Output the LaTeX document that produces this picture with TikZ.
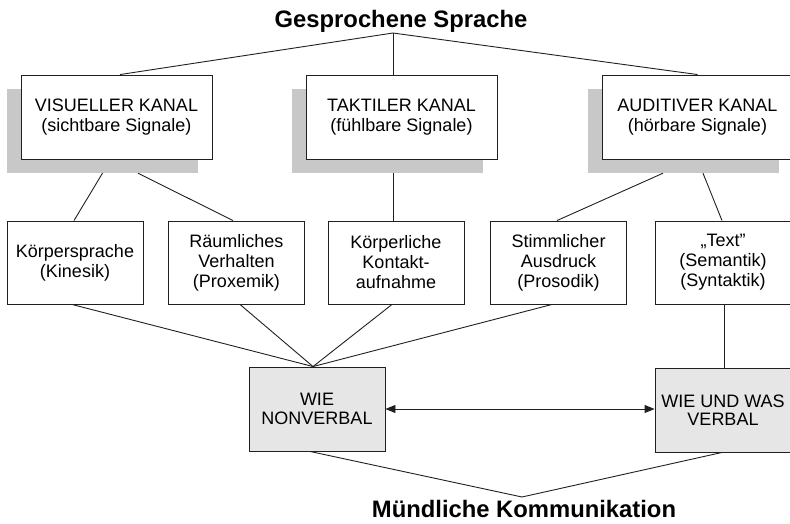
\documentclass[tikz,border=0pt]{standalone}
\usepackage{fontspec}
\setmainfont{Liberation Sans}
\usetikzlibrary{arrows.meta}
\definecolor{linec}{HTML}{231F20}
\definecolor{shadowc}{HTML}{C8C8C8}
\definecolor{boxgray}{HTML}{E6E6E6}
\tikzset{
  box/.style={draw=linec, line width=0.9pt, fill=white, minimum width=136pt, minimum height=83pt,
    inner sep=0pt, align=center, font=\fontsize{18}{20}\selectfont},
  kbox/.style={box, minimum width=191pt, minimum height=84pt},
  shadowbox/.style={fill=shadowc, minimum width=191pt, minimum height=84pt, inner sep=0pt},
  gbox/.style={box, fill=boxgray, minimum height=84pt, font=\fontsize{18}{18.5}\selectfont},
  titletext/.style={font=\fontsize{23.8}{26}\selectfont\bfseries, inner sep=0pt, anchor=base},
  conn/.style={draw=linec, line width=0.9pt}
}
\begin{document}
\begin{tikzpicture}[x=1pt,y=-1pt]
\useasboundingbox (0,0) rectangle (790,523);
% titles
\node[titletext] (gs) at (401,27) {Gesprochene Sprache};
\node[titletext] (mk) at (524,517) {Mündliche Kommunikation};
\coordinate (topc) at (393,33);
\coordinate (botc) at (522,497);
% shadows
\node[shadowbox] (visS) at (102.5,131) {};
\node[shadowbox] (takS) at (387.5,131) {};
\node[shadowbox] (audS) at (683.5,131) {};
% channel boxes
\node[kbox] (vis) at (116.5,117) {VISUELLER KANAL\\(sichtbare Signale)};
\node[kbox] (tak) at (401.5,117) {TAKTILER KANAL\\(fühlbare Signale)};
\node[kbox] (aud) at (697.5,117) {AUDITIVER KANAL\\(hörbare Signale)};
% second row
\node[box] (kin) at (75,262.5) {Körpersprache\\(Kinesik)};
\node[box] (prox) at (236.5,262.5) {Räumliches\\Verhalten\\(Proxemik)};
\node[box] (kont) at (396,262.5) {Körperliche\\Kontakt-\\aufnahme};
\node[box] (pros) at (558.5,262.5) {Stimmlicher\\Ausdruck\\(Prosodik)};
\node[box] (text) at (723,262.5) {„Text”\\(Semantik)\\(Syntaktik)};
% third row
\node[gbox] (nv) at (317,409) {WIE\\NONVERBAL};
\node[gbox] (vb) at (723,410) {WIE UND WAS\\VERBAL};
% connectors top
\draw[conn] (topc) -- ([xshift=3.5pt]vis.north);
\draw[conn] (topc) -- (topc |- tak.north);
\draw[conn] (topc) -- (aud.north);
% channel to second row
\draw[conn] (visS.south) -- ([xshift=-1pt]kin.north);
\draw[conn] ([xshift=35.5pt]visS.south) -- ([xshift=-3.5pt]prox.north);
\draw[conn] ([xshift=5.5pt]takS.south) -- ([xshift=-3pt]kont.north);
\draw[conn] ([xshift=-20.5pt]audS.south) -- ([xshift=-1.5pt]pros.north);
\draw[conn] ([xshift=19.5pt]audS.south) -- ([xshift=-1pt]text.north);
% second row to third row
\draw[conn] ([xshift=-3pt]kin.south) -- ([xshift=-4pt]nv.north);
\draw[conn] ([xshift=3.5pt]prox.south) -- ([xshift=-4pt]nv.north);
\draw[conn] ([xshift=-4pt]kont.south) -- ([xshift=-4pt]nv.north);
\draw[conn] ([xshift=-6.5pt]pros.south) -- ([xshift=-4pt]nv.north);
\draw[conn] ([xshift=1pt]text.south) -- ([xshift=1pt]vb.north);
% arrow
\draw[conn, {Triangle[length=10pt,width=8pt]}-{Triangle[length=10pt,width=8pt]}] (nv.east) -- (vb.west |- nv.east);
% bottom
\draw[conn] ([xshift=-7pt]nv.south) -- (botc) -- ([xshift=-1pt]vb.south);
\end{tikzpicture}
\end{document}
